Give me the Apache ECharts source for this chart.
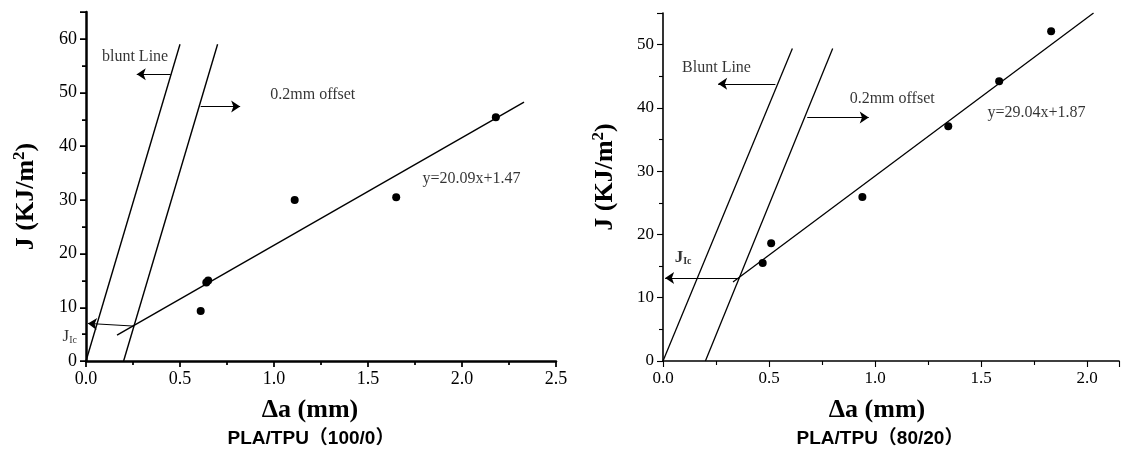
<!DOCTYPE html>
<html>
<head>
<meta charset="utf-8">
<script src="https://cdn.jsdelivr.net/npm/echarts@6/dist/echarts.min.js"></script>
<style>
  html, body { margin: 0; padding: 0; background: #fff; }
  #chart { width: 1122px; height: 450px; }
</style>
</head>
<body>
<div id="chart"></div>
<script>
// ---- left panel: PLA/TPU (100/0) ----
const leftPointsX = [0.61, 0.64, 0.65, 1.11, 1.65, 2.18];
const leftPointsY = [9.3, 14.6, 15.0, 30.0, 30.5, 45.4];
const leftFit = [[0.165, 4.8], [2.33, 48.2]];
const leftBlunt = [[0, 0], [0.5, 59]];
const leftOffset = [[0.2, 0], [0.7, 59]];
const leftArrows = [
  [[0.255, 6.5], [0.01, 7.0]],   // J_Ic
  [[0.45, 53.4], [0.27, 53.4]],  // blunt line
  [[0.61, 47.4], [0.82, 47.4]]   // offset
];
const leftNotes = [
  { text: 'blunt Line', x: 0.085, y: 56.6 },
  { text: '0.2mm offset', x: 0.98, y: 49.5 },
  { text: 'y=20.09x+1.47', x: 1.79, y: 33.9 }
];
const leftJic = [0, 4.6];
const leftXTicks = [0, 2.5, 0.5];
const leftYTicks = [0, 65, 10];

// ---- right panel: PLA/TPU (80/20) ----
const rightPointsX = [0.47, 0.51, 0.94, 1.345, 1.585, 1.83];
const rightPointsY = [15.5, 18.6, 25.9, 37.1, 44.2, 52.1];
const rightFit = [[0.33, 12.5], [2.03, 55]];
const rightBlunt = [[0, 0], [0.61, 49.4]];
const rightOffset = [[0.2, 0], [0.8, 49.4]];
const rightArrows = [
  [[0.36, 13.1], [0.01, 13.1]],
  [[0.53, 43.8], [0.26, 43.8]],
  [[0.68, 38.5], [0.97, 38.5]]
];
const rightNotes = [
  { text: 'Blunt Line', x: 0.09, y: 46.3 },
  { text: '0.2mm offset', x: 0.88, y: 41.5 },
  { text: 'y=29.04x+1.87', x: 1.53, y: 39.2 }
];
const rightJic = [0.055, 16.4];
const rightXTicks = [0, 2.15, 0.5];
const rightYTicks = [0, 55, 10];

const serif = 'Liberation Serif';

function xAxisFor(idx, ticks, lineW, fs, shift) {
  return {
    gridIndex: idx, type: 'value',
    min: ticks[0], max: ticks[1], interval: ticks[2],
    name: 'Δa (mm)', nameLocation: 'middle', nameGap: 36,
    nameTextStyle: {
      fontFamily: serif, fontWeight: 'bold', fontSize: 26, color: '#000',
      padding: shift > 0 ? [0, shift, 0, 0] : [0, 0, 0, -shift]
    },
    axisLine: { lineStyle: { color: '#000', width: lineW } },
    axisTick: { length: 6, lineStyle: { color: '#000', width: lineW * 0.7 } },
    minorTick: { show: true, splitNumber: 2, length: 4, lineStyle: { color: '#000', width: lineW * 0.7 } },
    splitLine: { show: false },
    axisLabel: {
      showMaxLabel: ticks[1] % ticks[2] === 0,
      margin: 9, fontFamily: serif, fontSize: fs, color: '#000',
      formatter: v => v.toFixed(1)
    }
  };
}

function yAxisFor(idx, ticks, lineW, fs, gap, shift) {
  return {
    gridIndex: idx, type: 'value',
    min: ticks[0], max: ticks[1], interval: ticks[2],
    name: 'J (KJ/m{s|2})', nameLocation: 'middle', nameGap: gap,
    nameTextStyle: {
      fontFamily: serif, fontWeight: 'bold', fontSize: 26, color: '#000',
      padding: shift > 0 ? [0, shift, 0, 0] : [0, 0, 0, -shift],
      rich: { s: { fontFamily: serif, fontWeight: 'bold', fontSize: 17, color: '#000', padding: [0, 0, 14, 0] } }
    },
    axisLine: { show: true, lineStyle: { color: '#000', width: lineW } },
    axisTick: { show: true, length: 6, lineStyle: { color: '#000', width: lineW * 0.7 } },
    minorTick: { show: true, splitNumber: 2, length: 4, lineStyle: { color: '#000', width: lineW * 0.7 } },
    splitLine: { show: false },
    axisLabel: { showMaxLabel: false, margin: 9, fontFamily: serif, fontSize: fs, color: '#000' }
  };
}

function seg(idx, pts, w) {
  return {
    type: 'line', xAxisIndex: idx, yAxisIndex: idx,
    data: pts, showSymbol: false, silent: true,
    lineStyle: { color: '#000', width: w }
  };
}

function panelSeries(idx, px, py, fit, blunt, offset, arrows, notes, jic, jicPos, noteSize, w) {
  const pts = px.map((x, i) => [x, py[i]]);
  return [
    {
      type: 'scatter', xAxisIndex: idx, yAxisIndex: idx,
      data: pts, symbolSize: 8, itemStyle: { color: '#000', opacity: 1 }
    },
    seg(idx, fit, w),
    seg(idx, blunt, w),
    seg(idx, offset, w),
    {
      type: 'line', xAxisIndex: idx, yAxisIndex: idx, data: [[0, 0]],
      showSymbol: false, lineStyle: { width: 0 }, silent: true,
      markLine: {
        silent: true, symbol: ['none', 'arrow'], symbolSize: 9,
        label: { show: false },
        lineStyle: { color: '#000', width: 1, type: 'solid' },
        itemStyle: { color: '#000' },
        data: arrows.map(a => [{ coord: a[0] }, { coord: a[1] }])
      }
    },
    {
      type: 'scatter', xAxisIndex: idx, yAxisIndex: idx, silent: true,
      symbolSize: 0,
      data: notes.map(n => ({ value: [n.x, n.y], name: n.text })),
      label: {
        show: true, position: 'right', distance: 0,
        formatter: p => p.name,
        fontFamily: serif, fontSize: noteSize, color: '#000'
      }
    },
    {
      type: 'scatter', xAxisIndex: idx, yAxisIndex: idx, silent: true,
      symbolSize: 0, data: [jic],
      label: {
        show: true, position: jicPos, distance: jicPos === 'left' ? 9 : 0,
        formatter: '{j|J}{s|Ic}',
        rich: {
          j: { fontFamily: serif, fontSize: 17, color: '#000', fontWeight: jicPos === 'left' ? 'normal' : 'bold' },
          s: { fontFamily: serif, fontSize: 10, color: '#000', padding: [8, 0, 0, 0], fontWeight: jicPos === 'left' ? 'normal' : 'bold' }
        }
      }
    }
  ];
}

const chart = echarts.init(document.getElementById('chart'));
chart.setOption({
  animation: false,
  backgroundColor: '#fff',
  grid: [
    { left: 86, top: 12, width: 470, bottom: 89 },
    { left: 663, top: 13, width: 456, bottom: 89 }
  ],
  xAxis: [
    xAxisFor(0, leftXTicks, 2.5, 18, 22),
    xAxisFor(1, rightXTicks, 1.6, 17, 28)
  ],
  yAxis: [
    yAxisFor(0, leftYTicks, 2.5, 18, 44, 20),
    yAxisFor(1, rightYTicks, 1.6, 17, 42, -20)
  ],
  graphic: [
    {
      type: 'text', x: 311, y: 439,
      style: { text: 'PLA/TPU（100/0）', align: 'center', verticalAlign: 'middle',
        font: 'bold 19px "Liberation Sans", "Noto Sans CJK SC"', fill: '#000' }
    },
    {
      type: 'text', x: 880, y: 439,
      style: { text: 'PLA/TPU（80/20）', align: 'center', verticalAlign: 'middle',
        font: 'bold 19px "Liberation Sans", "Noto Sans CJK SC"', fill: '#000' }
    }
  ],
  series: [].concat(
    panelSeries(0, leftPointsX, leftPointsY, leftFit, leftBlunt, leftOffset, leftArrows, leftNotes, leftJic, 'left', 16, 1.4),
    panelSeries(1, rightPointsX, rightPointsY, rightFit, rightBlunt, rightOffset, rightArrows, rightNotes, rightJic, 'right', 16, 1.3)
  )
});
</script>
</body>
</html>
